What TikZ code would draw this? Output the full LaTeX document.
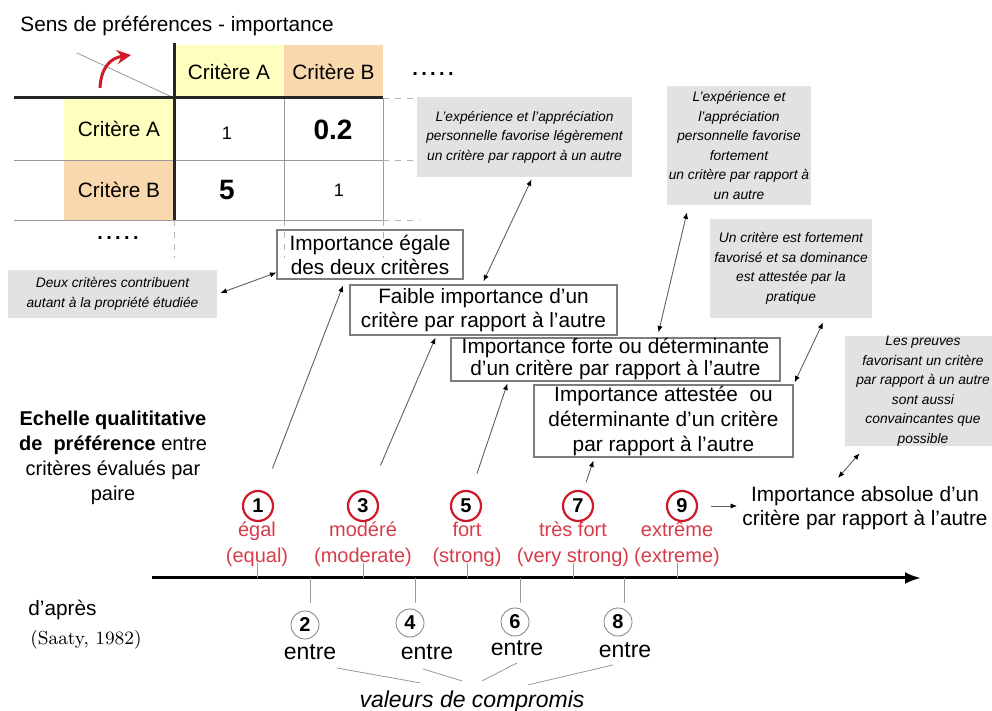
\documentclass[tikz,border=0pt]{standalone}
\usepackage{fontspec}
\setsansfont{Liberation Sans}
\usepackage{tikz}
\usetikzlibrary{arrows.meta,positioning,calc}
\definecolor{crityellow}{RGB}{255,255,192}
\definecolor{critorange}{RGB}{250,216,174}
\definecolor{notegray}{RGB}{226,226,226}
\definecolor{boxgray}{RGB}{125,125,125}
\definecolor{linkgray}{RGB}{95,95,95}
\definecolor{scalered}{RGB}{205,25,40}
\definecolor{labelred}{RGB}{215,60,75}

\begin{document}
\begin{tikzpicture}[
    x=0.5pt, y=-0.5pt,
    font=\sffamily\fontsize{10.4}{12}\selectfont,
    >={Latex[length=3.2pt,width=2.6pt,color=black]},
    % table cells
    cell/.style={rectangle, fill=#1, inner sep=0pt, minimum width=55pt},
    val/.style={inner sep=0pt},
    bigval/.style={inner sep=0pt, font=\sffamily\bfseries\fontsize{14}{16}\selectfont},
    % descriptive boxes and grey notes
    box/.style={rectangle, draw=boxgray, line width=0.6pt, inner sep=0pt, align=center},
    note/.style={rectangle, fill=notegray, inner sep=0pt, align=center,
        font=\sffamily\itshape\fontsize{6.9}{9.75}\selectfont},
    odd/.style={circle, draw=scalered, line width=1.1pt, minimum size=15pt, inner sep=0pt,
        font=\sffamily\bfseries\fontsize{10}{12}\selectfont},
    even/.style={circle, draw=gray, line width=0.4pt, minimum size=14pt, inner sep=0pt,
        font=\sffamily\bfseries\fontsize{10}{12}\selectfont},
    lbl/.style={text=labelred, align=center, inner sep=0pt,
        font=\sffamily\fontsize{10}{13}\selectfont},
    entre/.style={inner sep=0pt, font=\sffamily\fontsize{11.5}{13}\selectfont},
    link/.style={draw=linkgray, line width=0.45pt},
    grid/.style={draw=gray!80, line width=0.4pt},
    ext/.style={draw=gray!60, line width=0.4pt, dashed}
  ]
  \useasboundingbox (0,0) rectangle (992,711);
  \clip (0,0) rectangle (992,711);

  % Preference matrix
  \node[anchor=west, inner sep=0pt] (title) at (20,26) {Sens de préférences - importance};
  \node[cell=crityellow, minimum height=26.5pt] (hA) at (229,71.5) {Critère A};
  \node[cell=critorange, minimum width=49.5pt, minimum height=26.5pt] (hB) at (333.5,71.5) {Critère B};
  \node[cell=crityellow, minimum height=31pt] (rA) at (119,129) {Critère A};
  \node[cell=critorange, minimum height=30pt] (rB) at (119,190) {Critère B};
  \node[val, font=\sffamily\fontsize{9}{10}\selectfont] (vAA) at (227,133) {1};
  \node[bigval] (vAB) at (333,130) {0.2};
  \node[bigval] (vBA) at (227,190) {5};
  \node[val, font=\sffamily\fontsize{9}{10}\selectfont] (vBB) at (339,190) {1};

  \draw[grid] (14,160) -- (383,160);
  \draw[grid] (14,220) -- (383,220);
  \draw[grid] (284,98) -- (284,220);
  \draw[grid] (383,98) -- (383,220);
  \draw[grid] (77,53) -- (174,98);
  \draw[line width=1.5pt, black!85] (14,98) -- (383,98);
  \draw[line width=1.5pt, black!85] (174,43) -- (174,220);
  \foreach \yy in {98,160,220}
    \draw[ext] (383,\yy) -- (420,\yy);
  \foreach \xx in {174,284,383}
    \draw[ext] (\xx,220) -- (\xx,258);
  \draw[scalered, line width=1.5pt, -{Stealth[length=7pt,width=7pt]}]
    (100,88) .. controls (101,68) and (110,58) .. (131,55);

  \node[font=\sffamily\bfseries] (dotsC) at (433,74) {.\,.\,.\,.\,.};
  \node[font=\sffamily\bfseries] (dotsR) at (118,238) {.\,.\,.\,.\,.};

  % Grey notes
  \node[note, minimum width=104.5pt, minimum height=24pt] (n1) at (112.5,294)
    {Deux critères contribuent\\autant à la propriété étudiée};
  \node[note, minimum width=107.5pt, minimum height=40pt] (n3) at (524.5,137)
    {L'expérience et l'appréciation\\personnelle favorise légèrement\\un critère par rapport à un autre};
  \node[note, minimum width=72pt, minimum height=59.5pt] (n5) at (739,145.5)
    {L'expérience et\\l'appréciation\\personnelle favorise\\fortement\\un critère par rapport à\\un autre};
  \node[note, minimum width=81pt, minimum height=49.5pt] (n7) at (791,268.5)
    {Un critère est fortement\\favorisé et sa dominance\\est attestée par la\\pratique};
  \node[note, minimum width=78pt, minimum height=52.5pt] (n9) at (923,391)
    {Les preuves\\favorisant un critère\\par rapport à un autre\\sont aussi\\convaincantes que\\possible};

  % Importance boxes
  \node[box, minimum width=93pt, minimum height=24.5pt] (A) at (370,254.5)
    {Importance égale\\des deux critères};
  \node[box, minimum width=133.5pt, minimum height=25pt] (B) at (483.5,310)
    {Faible importance d'un\\critère par rapport à l'autre};
  \node[box, minimum width=164.5pt, minimum height=21.5pt, font=\sffamily\fontsize{10.4}{11}\selectfont] (C) at (615.5,359.5)
    {Importance forte ou déterminante\\d'un critère par rapport à l'autre};
  \node[box, minimum width=129.5pt, minimum height=36pt, font=\sffamily\fontsize{10.4}{12.5}\selectfont] (D) at (663.5,421)
    {Importance attestée\ \ ou\\déterminante d'un critère\\par rapport à l'autre};
  \node[inner sep=0pt, align=center] (Q) at (865,508)
    {Importance absolue d'un\\critère par rapport à l'autre};

  % Scale
  \node[align=center, font=\sffamily\fontsize{10}{12.5}\selectfont] (scale) at (113,457.5)
    {\textbf{Echelle qualititative}\\\textbf{de\ \ préférence} entre\\critères évalués par\\paire};
  \node[anchor=west, inner sep=0pt] (apres) at (28,610) {d'après};
  \node[anchor=west, inner sep=0pt, font=\rmfamily\fontsize{9.4}{11}\selectfont] (saaty) at (30,640) {(Saaty, 1982)};

  \coordinate (ax0) at (152,578);
  \coordinate (ax1) at (921,578);
  \draw[line width=1.5pt, -{Latex[length=8pt,width=6pt]}] (ax0) -- (ax1);

  \foreach \n/\cx/\lx/\txt in {1/258/257/{égal\\(equal)}, 3/363/363/{modéré\\(moderate)},
      5/466/467/{fort\\(strong)}, 7/578/573/{très fort\\(very strong)}, 9/682/677/{extrême\\(extreme)}} {
    \draw[grid] (\lx,563) -- (\lx,578);
    \node[lbl] (l\n) at (\lx,544) {\txt};
    \node[odd] (c\n) at (\cx,506) {\n};
  }
  \foreach \n/\cx/\cy/\tx/\ex/\ey in {2/305/625/310/310/652, 4/410/623/415/427/652,
      6/515/622/520/517/648, 8/618/622/624/625/650} {
    \draw[grid] (\tx,578) -- (\tx,603);
    \node[even] (m\n) at (\cx,\cy) {\n};
    \node[entre] (e\n) at (\ex,\ey) {entre};
  }
  \node[entre, font=\sffamily\itshape\fontsize{11.5}{13}\selectfont] (V) at (472,702) {valeurs de compromis};
  \draw[grid] ($(e2.south east)+(0,8)$) -- ($(V.north)+(-52,-8)$);
  \draw[grid] ($(e4.south)+(-4,9)$) -- ($(V.north)+(-10,-10)$);
  \draw[grid] ($(e6.south)+(0,7)$) -- ($(V.north)+(10,-10)$);
  \draw[grid] ($(e8.south)+(-12,7)$) -- ($(V.north)+(56,-6)$);

  % Connections
  \draw[link, <->] ($(n1.east)+(3,-1)$) -- ($(A.south west)+(0,-7)$);
  \draw[link, ->, shorten <=12pt] (c1) -- ($(A.south)+(-27,6)$);
  \draw[link, ->, shorten <=14pt] (c3) -- ($(B.south)+(-48,2)$);
  \draw[link, ->, shorten <=9pt] (c5) -- ($(C.south west)+(57,2)$);
  \draw[link, ->, shorten <=4.5pt] (c7) -- ($(D.south west)+(60,3)$);
  \draw[link, <->] ($(n3.south)+(7,2)$) -- ($(B.north)+(0,-3)$);
  \draw[link, <->] ($(n5.south)+(-52,7)$) -- ($(C.north)+(43,-5)$);
  \draw[link, <->] ($(n7.south)+(32,4)$) -- ($(D.north east)+(1,-2)$);
  \draw[link, <->] ($(n9.south west)+(15,7)$) -- ($(Q.north)+(-27,-8)$);
  \draw[link, ->, shorten <=6.5pt, shorten >=2.5pt] (c9.east) -- (c9.east -| Q.west);
\end{tikzpicture}
\end{document}
